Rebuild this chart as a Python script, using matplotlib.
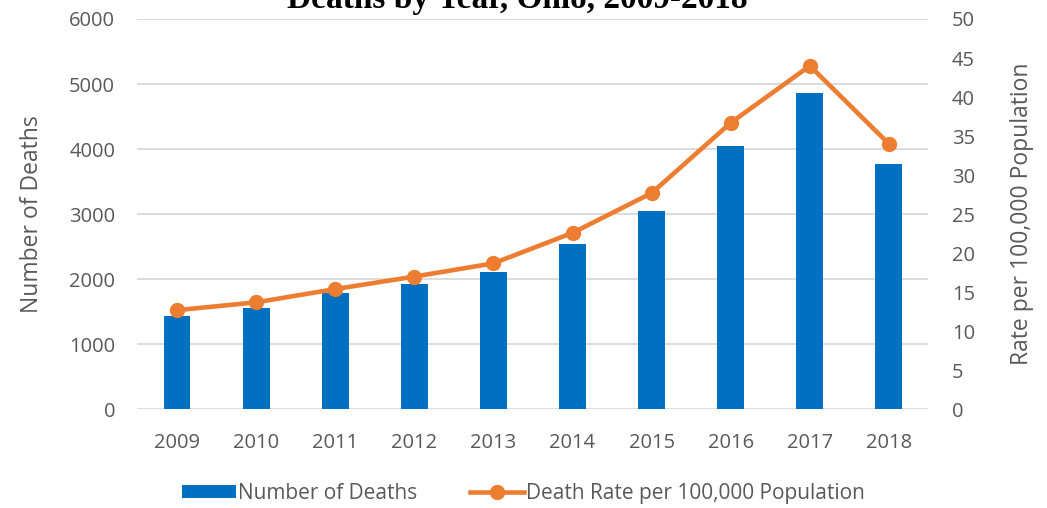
import matplotlib
matplotlib.use("Agg")
import matplotlib.pyplot as plt
import numpy as np

years = ["2009", "2010", "2011", "2012", "2013", "2014", "2015", "2016", "2017", "2018"]
deaths = [1435, 1554, 1785, 1928, 2117, 2538, 3046, 4051, 4855, 3769]
rate = [12.7, 13.7, 15.4, 17.0, 18.7, 22.6, 27.7, 36.7, 44.0, 34.0]

blue = "#0070C0"
orange = "#ED7D31"
grey = "#595959"
plt.rcParams["font.family"] = ["Open Sans", "DejaVu Sans"]

fig = plt.figure(figsize=(10.47, 5.08), dpi=100)
ax = fig.add_axes([0.1313, 0.1943, 0.7555, 0.7683])
x = np.arange(len(years))

ax.bar(x, deaths, width=0.34, color=blue, zorder=2, label="Number of Deaths")
ax.set_xlim(-0.5, len(years) - 0.5)
ax.set_ylim(0, 6000)
ax.set_yticks(range(0, 6001, 1000))
ax.set_xticks(x)
ax.set_xticklabels(years)
ax.grid(axis="y", color="#d9d9d9", linewidth=1.3, zorder=0)
for s in ax.spines.values():
    s.set_visible(False)
ax.tick_params(length=0, labelsize=14.5, colors=grey, pad=16)
ax.tick_params(axis="x", pad=17)
ax.set_ylabel("Number of Deaths", fontsize=16.5, color=grey, labelpad=18)

ax2 = ax.twinx()
ax2.plot(x, rate, color=orange, linewidth=3.3, marker="o", markersize=10,
         zorder=3, label="Death Rate per 100,000 Population")
ax2.set_ylim(0, 50)
ax2.set_yticks(range(0, 51, 5))
for s in ax2.spines.values():
    s.set_visible(False)
ax2.tick_params(length=0, labelsize=14.5, colors=grey, pad=17)
ax2.set_ylabel("Rate per 100,000 Population", fontsize=16.5, color=grey, labelpad=25)

fig.text(0.494, 1 - 8 / 508, "Deaths by Year, Ohio, 2009-2018", ha="center", va="baseline",
         fontsize=24, fontweight="bold", family="Liberation Serif")

h1, l1 = ax.get_legend_handles_labels()
h2, l2 = ax2.get_legend_handles_labels()
fig.legend(h1 + h2, l1 + l2, loc="center", bbox_to_anchor=(0.5, 0.029), ncol=2,
           frameon=False, fontsize=15, labelcolor=grey, handlelength=2.6,
           handleheight=0.6, handletextpad=0.1, columnspacing=2.5)

fig.savefig("out.png", dpi=100)
